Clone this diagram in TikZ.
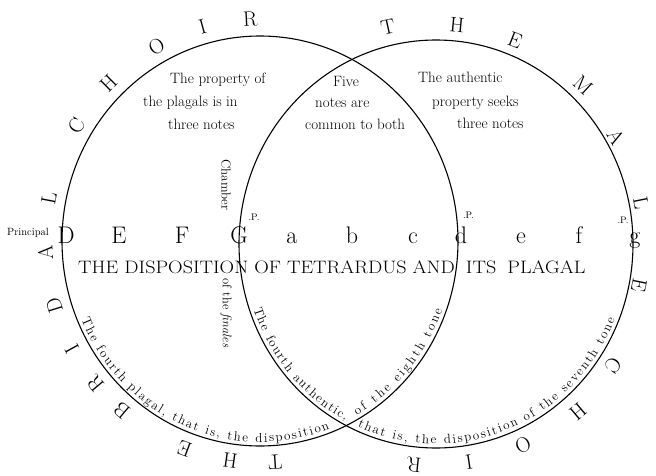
\documentclass[tikz,border=0pt]{standalone}
\usetikzlibrary{decorations.text,calc}
\newcommand\arcfont{\fontsize{13}{15}\selectfont}
\begin{document}
\begin{tikzpicture}[x=1pt,y=1pt,
  ring/.style={line width=1.1pt},
  big/.style={font=\fontsize{21}{25}\selectfont, inner sep=0pt},
  note/.style={font=\fontsize{24}{28}\selectfont, anchor=base, inner sep=0pt},
  body/.style={font=\fontsize{15}{18}\selectfont, anchor=base west, inner sep=0pt},
  sup/.style={font=\fontsize{9.5}{11}\selectfont, inner sep=0pt},
  vert/.style={rotate=-90, inner sep=0pt}
]
\useasboundingbox (0,0) rectangle (656,475);
\coordinate (L) at (260,234);
\coordinate (R) at (436,231);
\draw[ring] (L) ellipse[x radius=198pt, y radius=205pt];
\draw[ring] (R) ellipse[x radius=197pt, y radius=204pt];

% THE BRIDAL CHOIR
\foreach \ch/\a [count=\i] in {R/92.6, I/105.5, O/118.8, H/134.8, C/148.6, L/169, A/183, D/197, I/209, R/220, B/230, E/249.5, H/262, T/274}
  \node[big, rotate=\a-90] (bl\i) at ($(L)+(\a:215pt and 222pt)$) {\ch};

% THE MALE CHOIR
\foreach \ch/\x/\y/\r [count=\i] in {T/388/448/12.5, H/457/450/-5.5, E/515/435/-21.2, M/583/390/-42.8, A/616/338/-59.3, L/641/272/-78.7, E/639/190/-101.4, C/613/110/-124.4, H/578/63/-139.8, O/523/30/-156.6, I/469/13/-171.4, R/414/10/-185.7}
  \node[big, rotate=\r] (bm\i) at (\x,\y) {\ch};

% top texts
\node[body] (t1) at (170,391) {The property of};
\node[body] (t2) at (143,368) {the plagals is in};
\node[body] (t3) at (168,345) {three notes};
\node[body] (m1) at (333,388) {Five};
\node[body] (m2) at (315,367) {notes are};
\node[body] (m3) at (305,345) {common to both};
\node[body] (r1) at (418,392) {The authentic};
\node[body] (r2) at (432,368) {property seeks};
\node[body] (r3) at (457,347) {three notes};

% notes row
\node[font=\fontsize{10.5}{12}\selectfont, anchor=base west, inner sep=0pt] (princ) at (7,240) {Principal};
\foreach \ch/\x [count=\i] in {D/66, E/119, F/182, G/239, a/292, b/352, c/413, d/461, e/521, f/579, g/635}
  \node[note] (n\i) at (\x,232) {\ch};
\node[sup] (p1) at (254,258) {.P.};
\node[sup] (p2) at (468.5,260) {.P.};
\node[sup] (p3) at (623,255) {.P.};

\node[font=\fontsize{18}{21}\selectfont, anchor=base west, inner sep=0pt, xscale=1.12] (title) at (78,202) {THE DISPOSITION OF TETRARDUS AND\hspace{0.55em}ITS\hspace{0.55em}PLAGAL};

\node[vert, font=\fontsize{13}{15}\selectfont] (chamber) at (226,290) {Chamber};
\node[vert, font=\fontsize{12.5}{15}\selectfont] (finales) at (226,162) {of the \textit{finales}};

% texts along the circles
\path[decorate, decoration={text along path, text align={fit to path}, raise=4pt,
  text={|\arcfont|The fourth plagal, that is, the disposition}}]
  ($(L)+(203:198pt and 205pt)$) arc[start angle=203, end angle=291, x radius=198pt, y radius=205pt];
\path[decorate, decoration={text along path, text align={fit to path}, raise=4pt,
  text={|\arcfont|of the eighth tone}}]
  ($(L)+(300:198pt and 205pt)$) arc[start angle=300, end angle=340, x radius=198pt, y radius=205pt];
\path[decorate, decoration={text along path, text align={fit to path}, raise=4pt,
  text={|\arcfont|The fourth authentic,}}]
  ($(R)+(199:197pt and 204pt)$) arc[start angle=199, end angle=242, x radius=197pt, y radius=204pt];
\path[decorate, decoration={text along path, text align={fit to path}, raise=4pt,
  text={|\arcfont|that is, the disposition of the seventh tone}}]
  ($(R)+(246:197pt and 204pt)$) arc[start angle=246, end angle=338, x radius=197pt, y radius=204pt];
\end{tikzpicture}
\end{document}
